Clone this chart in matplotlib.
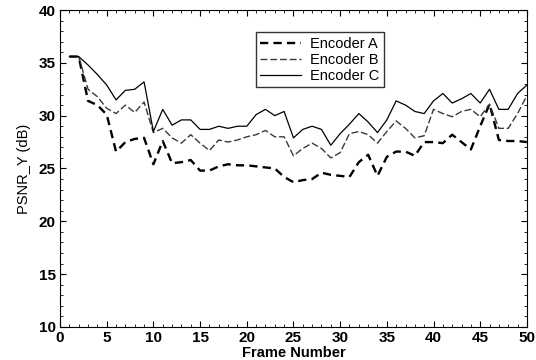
import numpy as np
from matplotlib import pyplot as plt
from matplotlib.ticker import MultipleLocator

# Datos (PSNR_Y en dB por cuadro)
frames = list(range(1, 51))
encoder_a = [35.6, 35.6, 31.4, 31.0, 30.1, 26.6, 27.5, 27.8, 27.9, 25.4,
             27.6, 25.5, 25.6, 25.8, 24.8, 24.8, 25.2, 25.4, 25.3, 25.3,
             25.2, 25.1, 25.0, 24.2, 23.7, 23.9, 24.0, 24.6, 24.4, 24.3,
             24.2, 25.6, 26.3, 24.3, 26.1, 26.6, 26.6, 26.2, 27.5, 27.5,
             27.4, 28.2, 27.5, 26.8, 29.0, 31.1, 27.7, 27.6, 27.6, 27.5]
encoder_b = [35.6, 35.6, 32.5, 31.8, 30.7, 30.2, 31.0, 30.3, 31.3, 28.4,
             28.8, 27.9, 27.4, 28.2, 27.4, 26.7, 27.7, 27.5, 27.7, 28.0,
             28.2, 28.6, 28.0, 28.0, 26.2, 26.9, 27.4, 26.9, 26.0, 26.5,
             28.3, 28.5, 28.2, 27.4, 28.5, 29.5, 28.8, 27.9, 28.1, 30.6,
             30.2, 29.9, 30.4, 30.6, 29.9, 31.1, 28.8, 28.8, 30.2, 31.9]
encoder_c = [35.6, 35.6, 34.8, 33.9, 32.9, 31.5, 32.4, 32.5, 33.2, 28.5,
             30.6, 29.1, 29.6, 29.6, 28.7, 28.7, 29.0, 28.8, 29.0, 29.0,
             30.1, 30.6, 30.0, 30.4, 27.9, 28.7, 29.0, 28.7, 27.2, 28.3,
             29.2, 30.2, 29.4, 28.4, 29.6, 31.4, 31.0, 30.4, 30.2, 31.4,
             32.1, 31.2, 31.6, 32.1, 31.2, 32.5, 30.6, 30.6, 32.1, 32.9]

plt.rcParams['font.family'] = ['Liberation Sans', 'DejaVu Sans']

fig = plt.figure(figsize=(5.36, 3.6), dpi=100)
ax = fig.add_axes([0.112, 0.092, 0.871, 0.880])

ax.plot(frames, encoder_a, color='black', lw=1.7, linestyle=(0, (3.5, 2.2)), label='Encoder A')
ax.plot(frames, encoder_b, color='#3a3a3a', lw=1.0, linestyle=(0, (5, 2)), label='Encoder B')
ax.plot(frames, encoder_c, color='black', lw=0.9, label='Encoder C')

ax.set_xlim(0, 50)
ax.set_ylim(10, 40)
ax.xaxis.set_major_locator(MultipleLocator(5))
ax.xaxis.set_minor_locator(MultipleLocator(1))
ax.yaxis.set_major_locator(MultipleLocator(5))
ax.yaxis.set_minor_locator(MultipleLocator(1))
ax.tick_params(which='both', direction='in', top=True, right=True)
ax.tick_params(which='major', length=4, labelsize=11, pad=3)
ax.tick_params(which='minor', length=2)
for lbl in ax.get_xticklabels() + ax.get_yticklabels():
    lbl.set_fontweight('bold')

ax.set_xlabel("Frame Number", fontsize=10.5, fontweight='bold', labelpad=1)
ax.set_ylabel("PSNR_Y (dB)", fontsize=10.5, labelpad=6)

leg = ax.legend(loc='upper left', bbox_to_anchor=(0.42, 0.93), fontsize=10.5,
                handlelength=2.8, frameon=True, fancybox=False, borderaxespad=0,
                labelspacing=0.15, borderpad=0.3, handletextpad=0.6)
leg.get_frame().set_edgecolor('black')
leg.get_frame().set_linewidth(1.0)

plt.savefig("out.png", dpi=100)
